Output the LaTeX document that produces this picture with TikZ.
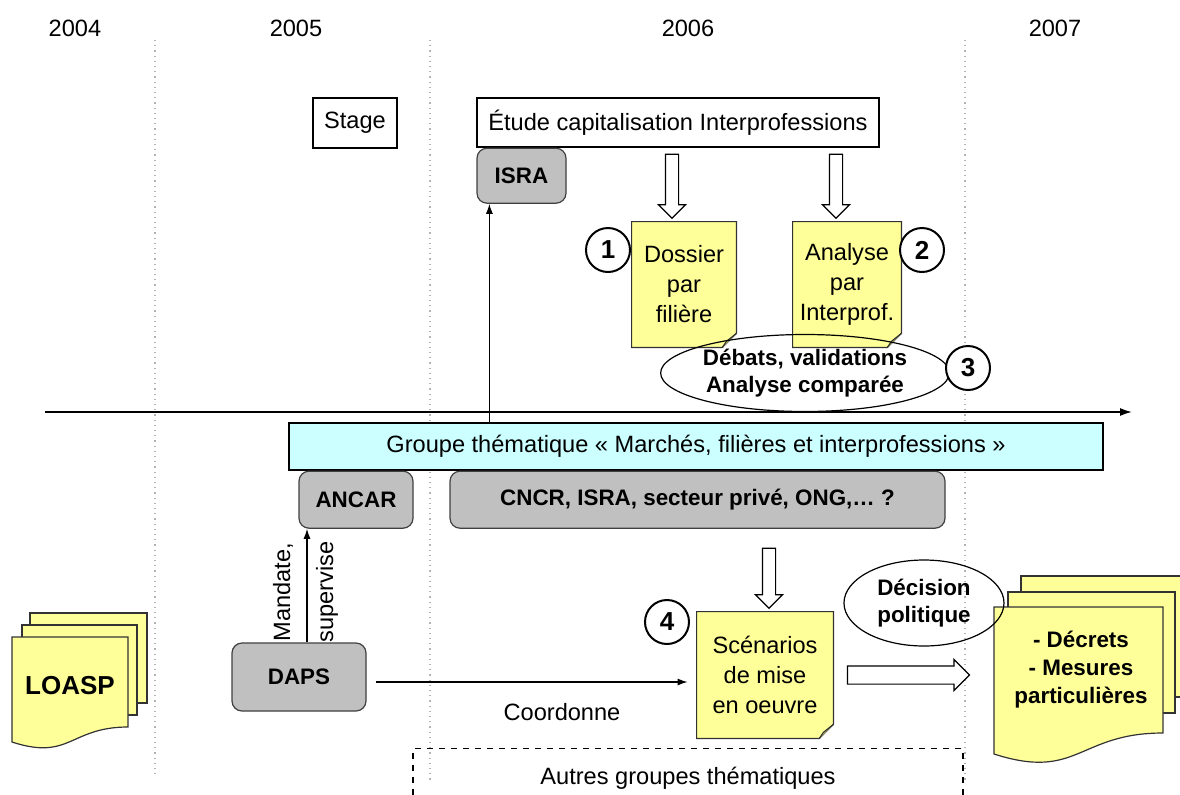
\documentclass[tikz,border=0pt]{standalone}
\usepackage{fontspec}
\setmainfont{Liberation Sans}
\usepackage{tikz}
\usetikzlibrary{positioning,arrows.meta,shapes.geometric,shapes.arrows}
\definecolor{noteyel}{RGB}{255,255,153}
\definecolor{noteflap}{RGB}{225,225,120}
\definecolor{boxgray}{RGB}{192,192,192}
\definecolor{grpcyan}{RGB}{204,255,255}

\tikzset{
  txt/.style={font=\fontsize{11.8}{15}\selectfont},
  boldtxt/.style={font=\fontsize{11.2}{13.5}\selectfont\bfseries},
  yearsep/.style={gray!60,dotted,line width=0.6pt},
  conn/.style={line width=0.6pt,-{Latex[length=5pt,width=3.5pt]}},
  plainbox/.style={txt,draw,line width=0.6pt,inner sep=2pt},
  graybox/.style={boldtxt,draw=black!75,fill=boxgray,line width=0.6pt,rounded corners=5pt},
  grpbox/.style={txt,draw,fill=grpcyan,line width=0.6pt},
  note/.style={txt,fill=noteyel,align=center,inner sep=2pt},
  noteline/.style={draw=black!80,line width=0.6pt},
  numcirc/.style={circle,draw,line width=1pt,fill=white,minimum size=22pt,inner sep=0pt,
    font=\fontsize{13}{13}\selectfont\bfseries},
  bubble/.style={ellipse,draw,line width=0.6pt,inner sep=0pt,boldtxt,align=center},
  hollowdown/.style={single arrow,draw,fill=white,line width=0.6pt,shape border rotate=270,
    inner sep=3pt,single arrow head extend=3.5pt,minimum height=32pt},
  hollowright/.style={single arrow,draw,fill=white,line width=0.6pt,
    inner sep=4.25pt,single arrow head extend=3.25pt,minimum height=61pt},
  docsheet/.style={draw=black!80,fill=noteyel,line width=0.6pt}
}

% sticky note outline with folded corner
\newcommand{\foldnote}[1]{%
  \fill[white] ([yshift=7pt]#1.south east) -- (#1.south east) -- ([xshift=-7pt]#1.south east) -- cycle;
  \draw[noteline] (#1.north west) -- (#1.north east) -- ([yshift=7pt]#1.south east)
    -- ([xshift=-7pt]#1.south east) -- (#1.south west) -- cycle;
  \draw[noteline,fill=noteflap] ([yshift=7pt]#1.south east) -- ([xshift=-5pt,yshift=3pt]#1.south east)
    -- ([xshift=-7pt]#1.south east);
}

\begin{document}
\begin{tikzpicture}[x=0.5pt,y=-0.5pt]
\useasboundingbox (0,0) rectangle (1180,794);

% Years
\node[txt] (y2004) at (75,28) {2004};
\node[txt] (y2005) at (296,28) {2005};
\node[txt] (y2006) at (688,28) {2006};
\node[txt] (y2007) at (1055,28) {2007};

% Year separators
\draw[yearsep] (155,40) -- (155,775);
\draw[yearsep] (430,40) -- (430,780);
\draw[yearsep] (965,40) -- (965,780);

% Time axis
\coordinate (axisstart) at (45,412);
\coordinate (axisend) at (1132,412);
\draw[line width=0.8pt,-{Latex[length=6pt,width=4pt]}] (axisstart) -- (axisend);

% Top part: study
\node[plainbox,minimum width=42pt,minimum height=25pt] (stage) at (355,123) {Stage};
\node[plainbox,minimum width=201pt,minimum height=24.5pt] (etude) at (678,122.5) {Étude capitalisation Interprofessions};
\node[graybox,minimum width=44.5pt,minimum height=27.5pt,below right=0pt and 0pt of etude.south west] (isra) {ISRA};

\node[hollowdown] (downa) at (672,183) {};
\node[hollowdown] (downb) at (836,183) {};

\node[note,minimum width=52pt,minimum height=62.5pt] (dossier) at (684,284.5) {Dossier\\par\\filière};
\foldnote{dossier}
\node[note,minimum width=54pt,minimum height=62.5pt] (analyse) at (847,284.5) {Analyse\\par\\Interprof.};
\foldnote{analyse}

\node[numcirc] (num1) at (608,250) {1};
\node[numcirc] (num2) at (922,250) {2};

\node[bubble,minimum width=140pt,minimum height=38.5pt] (debats) at (805,373) {Débats, validations\\Analyse comparée};
\node[numcirc] (num3) at (968,368) {3};

% Thematic group
\node[grpbox,minimum width=407pt,minimum height=23.5pt] (groupe) at (696,446.5) {Groupe thématique « Marchés, filières et interprofessions »};
\node[graybox,minimum width=57pt,minimum height=28.5pt,below right=0pt and 5pt of groupe.south west] (ancar) {ANCAR};
\node[graybox,minimum width=247.5pt,minimum height=28.5pt,below right=0pt and 80.5pt of groupe.south west] (cncr) {CNCR, ISRA, secteur privé, ONG,\ldots\ ?};

\draw[conn] ([xshift=6.5pt]isra.south west |- groupe.north) -- ([xshift=6.5pt]isra.south west);

% Lower part: DAPS
\node[graybox,minimum width=67pt,minimum height=34pt] (daps) at (299,677) {DAPS};
\draw[conn] ([xshift=4pt]daps.north) -- ([xshift=4pt]daps.north |- ancar.south);
\node[txt,rotate=90] (mandlbl) at (283,592) {Mandate,};
\node[txt,rotate=90] (suplbl) at (327,592) {supervise};

\node[hollowdown,minimum height=30pt] (downc) at (769,575) {};
\node[note,minimum width=68pt,minimum height=63pt] (scen) at (765,675) {Scénarios\\de mise\\en oeuvre};
\foldnote{scen}
\node[numcirc] (num4) at (667,622) {4};

\draw[conn,shorten <=4.5pt,shorten >=4.5pt] ([yshift=-2.5pt]daps.east) -- ([yshift=-2.5pt]daps.east -| scen.west);
\node[txt] (coordlbl) at (562,712) {Coordonne};

\node[hollowright] (rightarr) at (904,675) {};

\node[txt,draw,dashed,line width=0.6pt,minimum width=275pt,minimum height=30pt,anchor=north] (autres) at (688,748) {Autres groupes thématiques};

% LOASP stack
\draw[docsheet] (30,613) rectangle (147,703);
\draw[docsheet] (22,625) rectangle (137,715);
\draw[docsheet] (12,637) -- (128,637) -- (128,727) .. controls (70,727) and (70,761) .. (12,742) -- cycle;
\node[font=\fontsize{13}{13}\selectfont\bfseries] (loasp) at (70,686) {LOASP};

% Decrets stack
\draw[docsheet] (1021,576) rectangle (1200,697);
\draw[docsheet] (1008,592) rectangle (1175,713);
\draw[docsheet] (994,607) -- (1163,607) -- (1163,733) .. controls (1078,733) and (1078,781) .. (994,754) -- cycle;
\node[boldtxt,align=center,font=\fontsize{11.2}{14}\selectfont\bfseries] (decrets) at (1081,670) {- Décrets\\- Mesures\\particulières};

\node[bubble,minimum width=80pt,minimum height=43pt] (decision) at (924,603) {Décision\\politique};
\end{tikzpicture}
\end{document}
